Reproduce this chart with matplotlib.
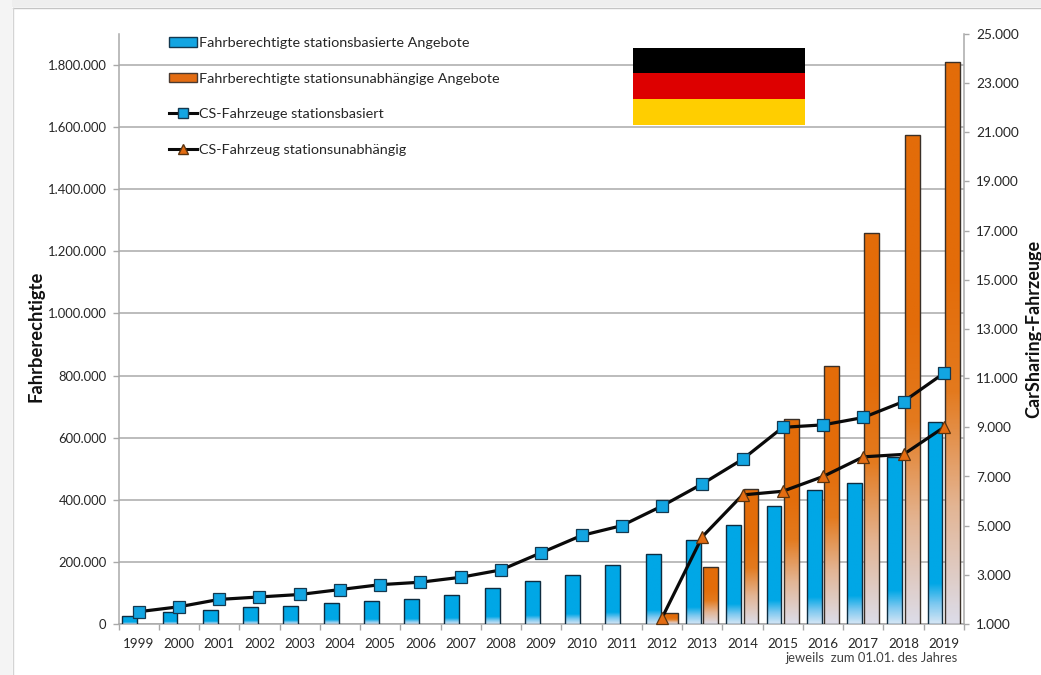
import matplotlib
matplotlib.use("Agg")
import matplotlib.pyplot as plt
import numpy as np
from matplotlib.colors import LinearSegmentedColormap
from matplotlib.lines import Line2D
from matplotlib.patches import Rectangle

plt.rcParams['font.family'] = ['Lato', 'DejaVu Sans']

years = list(range(1999, 2020))
riders_station = [26000, 38000, 45000, 55000, 58000, 68000, 75000, 82000, 95000, 116000, 137000,
                  158000, 190000, 224000, 270000, 320000, 380000, 430000, 453000, 537000, 650000]
years_free = [2012, 2013, 2014, 2015, 2016, 2017, 2018, 2019]
riders_free = [35000, 183000, 435000, 660000, 830000, 1260000, 1575000, 1810000]
cars_station = [1500, 1700, 2000, 2100, 2200, 2400, 2600, 2700, 2900, 3200, 3900,
                4600, 5000, 5800, 6700, 7700, 9000, 9100, 9400, 10050, 11200]
cars_free = [1250, 4550, 6250, 6400, 7000, 7800, 7900, 9000]
left_ticks = list(range(0, 1800001, 200000))
right_ticks = list(range(1000, 25001, 2000))

W, H = 1041, 675
fig = plt.figure(figsize=(W / 100, H / 100), dpi=100)
fx = lambda p: p / W
fy = lambda p: 1 - p / H
ax = fig.add_axes([fx(118.5), fy(624), (964 - 118.5) / W, (624 - 34) / H])
ax2 = ax.twinx()

def de(v):
    return f"{v:,}".replace(",", ".")

GRID = "#a9a9a9"
blue_cmap = LinearSegmentedColormap.from_list("b", ["#d6e6f5", "#7cc8f0", "#00a7e6", "#00a7e6"])
orange_cmap = LinearSegmentedColormap.from_list("o", ["#dcdce8", "#e3b594", "#e37a1e", "#e36c09"])

def gradient_bars(xs, vals, offs, cmap, edge, frac):
    for x, v in zip(xs, vals):
        bars = ax.bar(x + offs, v, width=0.37, color="none", edgecolor=edge, linewidth=1.0, zorder=4)
        ramp = np.clip(np.linspace(0, 1, 256) / frac, 0, 1)[:, None]
        im = ax.imshow(ramp, extent=[x + offs - 0.185, x + offs + 0.185, 0, v], origin="lower",
                       cmap=cmap, vmin=0, vmax=1, aspect="auto", zorder=3, interpolation="bilinear")
        im.set_clip_path(bars[0])

gradient_bars(years, riders_station, -0.22, blue_cmap, "#0f2c40", 0.3)
gradient_bars(years_free, riders_free, 0.21, orange_cmap, "#3a3028", 0.62)

ax.set_xlim(1998.5, 2019.5)
ax.set_ylim(0, 1900000)
ax.set_xticks([y - 0.5 for y in years] + [2019.5])
ax.set_xticklabels([])
ax.set_xticks(years, minor=True)
ax.set_xticklabels(years, minor=True, fontsize=9.6, color="#262626")
ax.tick_params(axis="x", which="major", length=4, direction="out", color=GRID, width=1)
ax.tick_params(axis="x", which="minor", length=0, pad=10)
ax.set_yticks(left_ticks)
ax.set_yticklabels([de(v) for v in left_ticks], fontsize=9.4, color="#262626")
ax.tick_params(axis="y", length=4.3, color=GRID, width=1, pad=4.3)
ax.grid(axis="y", color=GRID, linewidth=1.1, zorder=0)
ax.set_axisbelow(True)
for s in ["top", "right"]:
    ax.spines[s].set_visible(False)
for s in ["left", "bottom"]:
    ax.spines[s].set_color(GRID)
    ax.spines[s].set_linewidth(1.1)

ax2.set_zorder(ax.get_zorder() + 1)
ax2.patch.set_visible(False)
ax2.set_ylim(1000, 25000)
ax2.set_yticks(right_ticks)
ax2.set_yticklabels([de(v) for v in right_ticks], fontsize=9.8, color="#262626")
ax2.tick_params(axis="y", length=3.6, color=GRID, width=1, pad=5.2)
for s in ["top", "left", "bottom"]:
    ax2.spines[s].set_visible(False)
ax2.spines["right"].set_color(GRID)
ax2.spines["right"].set_linewidth(1.1)
ax2.plot(years, cars_station, color="#0a0a0a", linewidth=2.3, marker="s", markersize=8.0,
         markerfacecolor="#12a5e2", markeredgecolor="#14384f", markeredgewidth=0.9, zorder=5, clip_on=False)
ax2.plot(years_free, cars_free, color="#0a0a0a", linewidth=2.3, marker="^", markersize=8.2,
         markerfacecolor="#e36c12", markeredgecolor="#5a3410", markeredgewidth=0.9, zorder=5, clip_on=False)

fig.text(fx(36), fy(336), "Fahrberechtigte", rotation=90, ha="center", va="center",
         fontsize=13.2, fontweight="bold", color="#111111")
fig.text(fx(1034), fy(329), "CarSharing-Fahrzeuge", rotation=90, ha="center", va="center",
         fontsize=13, fontweight="bold", color="#111111")
fig.text(fx(958), fy(658), "jeweils  zum 01.01. des Jahres", ha="right", va="center",
         fontsize=9.4, color="#404040")

# legend
handles = [
    Rectangle((0, 0), 1, 1, facecolor="#12a5e2", edgecolor="#14384f", linewidth=1),
    Rectangle((0, 0), 1, 1, facecolor="#e36c12", edgecolor="#4a3a30", linewidth=1),
    Line2D([], [], color="#0a0a0a", linewidth=2.2, marker="s", markersize=7,
           markerfacecolor="#12a5e2", markeredgecolor="#14384f"),
    Line2D([], [], color="#0a0a0a", linewidth=2.2, marker="^", markersize=7,
           markerfacecolor="#e36c12", markeredgecolor="#5a3410"),
]
labels = ["Fahrberechtigte stationsbasierte Angebote", "Fahrberechtigte stationsunabhängige Angebote",
          "CS-Fahrzeuge stationsbasiert", "CS-Fahrzeug stationsunabhängig"]
leg = ax2.legend(handles, labels, loc="upper left", bbox_to_anchor=(fx(169), fy(37)),
                 bbox_transform=fig.transFigure, frameon=False, fontsize=10.4, labelcolor="#262626",
                 handlelength=1.94, handleheight=0.65, handletextpad=0.15, labelspacing=1.64,
                 borderpad=0, borderaxespad=0)

# flag
for top, bottom, c in [(48, 73, "#000000"), (73, 99, "#dd0000"), (99, 125, "#ffce00")]:
    fig.add_artist(Rectangle((fx(633), fy(bottom)), 172 / W, (bottom - top) / H,
                             transform=fig.transFigure, facecolor=c, edgecolor="none", zorder=6))

# frame of the screenshot: grey strips at the top and left, thin line round the page
fig.add_artist(Rectangle((0, fy(7)), 1, 7 / H, transform=fig.transFigure, facecolor="#eeeeee", edgecolor="none"))
fig.add_artist(Rectangle((0, 0), 12 / W, 1, transform=fig.transFigure, facecolor="#f4f4f4", edgecolor="none"))
fig.add_artist(Line2D([fx(12.5), 1], [fy(7.5), fy(7.5)], transform=fig.transFigure, color="#c4c4c4", linewidth=1))
fig.add_artist(Line2D([fx(12.5), fx(12.5)], [0, fy(7.5)], transform=fig.transFigure, color="#d4d4d4", linewidth=1))

fig.savefig("out.png", dpi=100)
